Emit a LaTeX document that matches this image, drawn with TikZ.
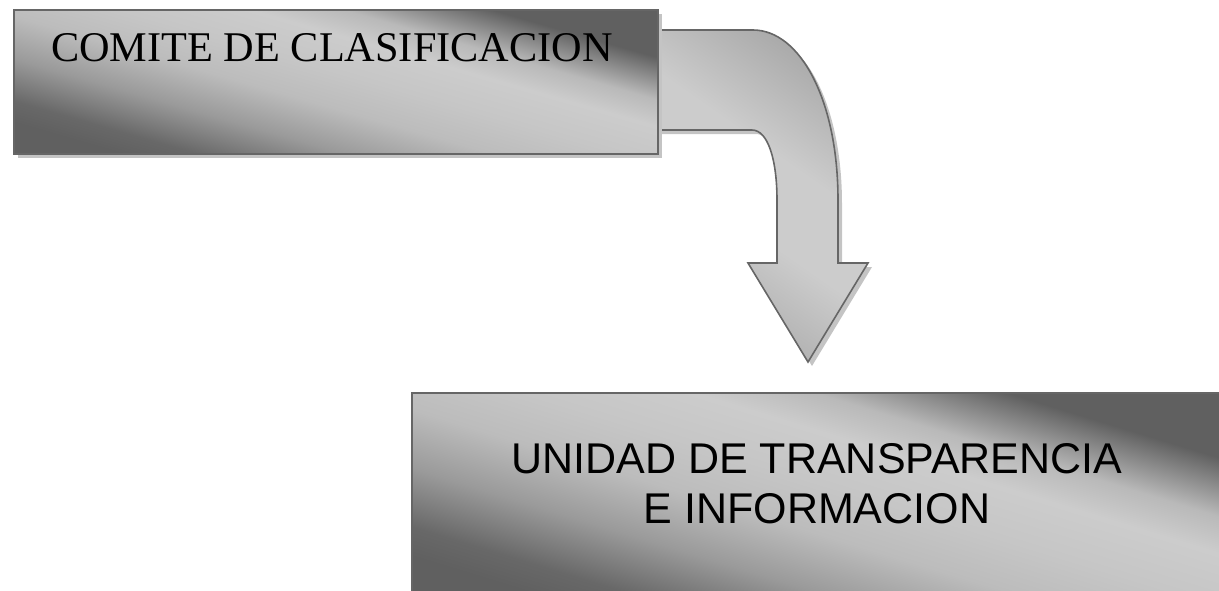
\documentclass[tikz,border=0pt]{standalone}
\usepackage{fontspec}
\setmainfont{Liberation Serif}
\newfontfamily\arialf{Liberation Sans}
\usetikzlibrary{shadows}
\definecolor{edgec}{HTML}{666666}
\definecolor{shadowc}{HTML}{C4C4C4}
\definecolor{darkg}{HTML}{606060}
\definecolor{lightg}{HTML}{CCCCCC}
\definecolor{midg}{HTML}{A0A0A0}
\pgfdeclarehorizontalshading{metal}{100bp}{color(0bp)=(darkg); color(25bp)=(darkg); color(29bp)=(rgb,255:red,104;green,104;blue,104); color(37bp)=(rgb,255:red,154;green,154;blue,154); color(45bp)=(rgb,255:red,188;green,188;blue,188); color(52bp)=(rgb,255:red,198;green,198;blue,198); color(59bp)=(lightg); color(64bp)=(rgb,255:red,185;green,185;blue,185); color(72bp)=(darkg); color(100bp)=(darkg)}
\pgfdeclarehorizontalshading{arrowshade}{100bp}{color(0bp)=(midg); color(22bp)=(midg); color(45bp)=(lightg); color(58bp)=(lightg); color(80bp)=(midg); color(100bp)=(midg)}
\tikzset{
  flatshadow/.style={general shadow={fill=shadowc, shadow xshift=4pt, shadow yshift=-4pt}},
  metalbox/.style={draw=edgec, line width=1.6pt, shading=metal, flatshadow, inner sep=0pt},
  bentarrow/.style={draw=edgec, line width=1.6pt, line join=miter, shading=arrowshade, shading angle=55, flatshadow},
  serifl/.style={font=\fontsize{42.3}{50}\selectfont, inner sep=0pt},
  sansl/.style={font=\arialf\fontsize{43}{50}\selectfont, inner sep=0pt, align=center}
}
\begin{document}
\begin{tikzpicture}[x=1pt,y=-1pt]
\useasboundingbox (0,0) rectangle (1219,590);
\clip (0,0) rectangle (1219,590);
% bent block arrow (drawn first, its tail lies under the upper box)
\path[bentarrow] (640,30) -- (753,30)
  .. controls (800,30) and (838,100) .. (838,200)
  -- (838,263) -- (868,263) -- (808,362) -- (748,263) -- (777,263) -- (777,200)
  .. controls (777,160) and (768,130) .. (752,130)
  -- (640,130) -- cycle;
% boxes
\node[metalbox, shading angle=74, anchor=north west, minimum width=644pt, minimum height=144pt] (comite) at (13,9) {};
\node[metalbox, shading angle=73, anchor=north west, minimum width=820pt, minimum height=210pt] (unidad) at (411,392) {};
% texts
\node[serifl, anchor=base] (comitetxt) at (332,61) {COMITE DE CLASIFICACION};
\node[sansl, anchor=base] (unidadtxt) at (817,523) {UNIDAD DE TRANSPARENCIA\\E INFORMACION};
\end{tikzpicture}
\end{document}
